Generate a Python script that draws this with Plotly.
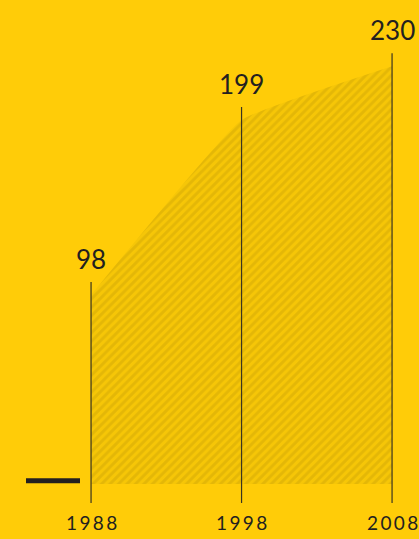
import plotly.graph_objects as go

years = [1988, 1998, 2008]
values = [98, 199, 230]
year_labels = ["1988", "1998", "2008"]
value_labels = ["98", "199", "230"]

BG = "#FFCC08"
HATCH = "#D2A808"
HATCH_BG = "#F6C607"
INK = "#231F20"

base_val = -11     # fill bottom
line_bottom = -22  # vertical guide bottom
line_ext = 7.5     # guide extends above value
label_y = -33

def spaced(s):
    return "\u2009".join(s)

fig = go.Figure()

# baseline for fill
fig.add_trace(go.Scatter(x=years, y=[base_val] * len(years), mode="lines",
                         line=dict(width=0, color=BG), hoverinfo="skip", showlegend=False))
fig.add_trace(go.Scatter(x=years, y=values, mode="lines", fill="tonexty",
                         line=dict(width=0, shape="spline", smoothing=0.3, color=HATCH),
                         fillcolor="rgba(0,0,0,0)",
                         fillpattern=dict(shape="/", fgcolor=HATCH, bgcolor=HATCH_BG,
                                          size=6, solidity=0.5),
                         hoverinfo="skip", showlegend=False))

# vertical guide lines
gx, gy = [], []
for x, v in zip(years, values):
    gx += [x, x, None]
    gy += [line_bottom, v + line_ext, None]
fig.add_trace(go.Scatter(x=gx, y=gy, mode="lines",
                         line=dict(color="#3A3420", width=1.2),
                         hoverinfo="skip", showlegend=False))

for x, v, t in zip(years, values, value_labels):
    fig.add_annotation(x=x, y=v, text=t, showarrow=False, yanchor="middle",
                       yshift=36, font=dict(family="Lato", size=26, color=INK))

for x, t in zip(years, year_labels):
    fig.add_annotation(x=x, y=label_y, text=spaced(t), showarrow=False,
                       yanchor="middle", font=dict(family="Lato", size=19, color=INK))

# dash at left
fig.add_shape(type="line", xref="paper", yref="y", x0=26/419, x1=80/419,
              y0=base_val + 1.8, y1=base_val + 1.8, line=dict(color=INK, width=5))

fig.update_layout(
    width=419, height=539,
    margin=dict(l=0, r=0, t=0, b=0),
    paper_bgcolor=BG, plot_bgcolor=BG,
    xaxis=dict(range=[1981.95, 2009.79], visible=False, fixedrange=True),
    yaxis=dict(range=[-42.8, 268.2], visible=False, fixedrange=True),
    showlegend=False,
)

fig.write_html("out.html", config={"displayModeBar": False},
               post_script="document.body.style.margin='0';document.body.style.overflow='hidden';")
